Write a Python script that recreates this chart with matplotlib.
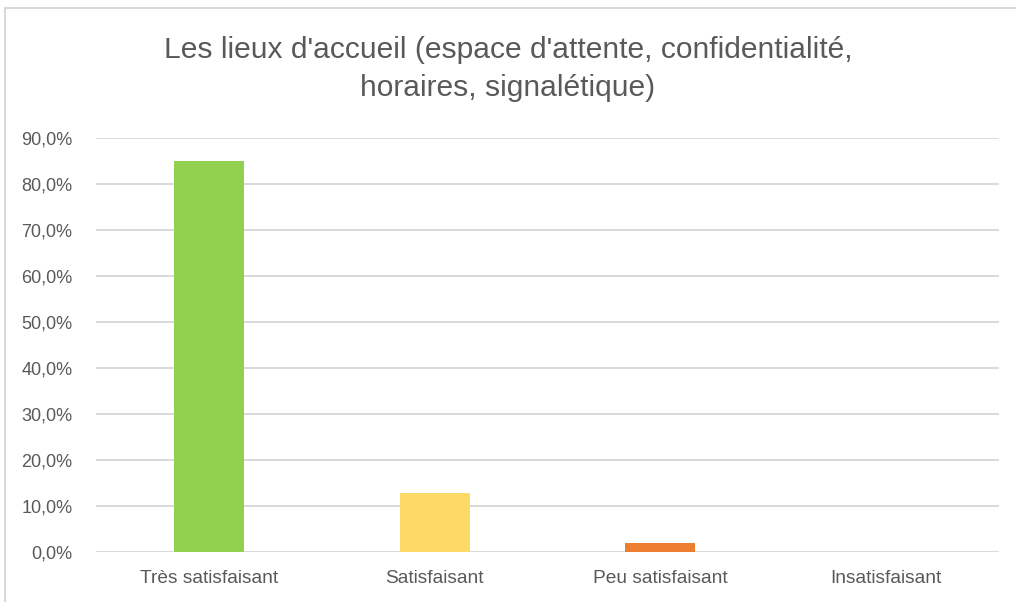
import matplotlib
matplotlib.use('Agg')
from matplotlib import pyplot as plt
from matplotlib.lines import Line2D

plt.rcParams['font.family'] = ['Liberation Sans', 'DejaVu Sans']

# data
categories = ['Très satisfaisant', 'Satisfaisant', 'Peu satisfaisant', 'Insatisfaisant']
values = [85.1, 12.9, 2.0, 0.0]
colors = ['#92d050', '#ffd966', '#ed7d31', '#c00000']
yticks = [0, 10, 20, 30, 40, 50, 60, 70, 80, 90]
title = "Les lieux d'accueil (espace d'attente, confidentialité,\nhoraires, signalétique)"

text_color = '#595959'
grid_color = '#d9d9d9'

fig = plt.figure(figsize=(10.16, 6.02), dpi=100)
ax = fig.add_axes([96 / 1016, 50 / 602, 903 / 1016, 414 / 602])

x = range(len(categories))
ax.bar(x, values, width=0.31, color=colors, zorder=3)

ax.set_xlim(-0.5, len(categories) - 0.5)
ax.set_ylim(0, 90)
ax.set_yticks(yticks)
# french decimal comma
ax.set_yticklabels([('%.1f%%' % v).replace('.', ',') for v in yticks],
                   fontsize=13, color=text_color)
ax.yaxis.set_tick_params(length=0, pad=17)
ax.set_xticks(list(x))
ax.set_xticklabels(categories, fontsize=13.8, color=text_color)
ax.xaxis.set_tick_params(length=0, pad=13)

ax.grid(axis='y', color=grid_color, linewidth=1.4, zorder=0)
for s in ax.spines.values():
    s.set_visible(False)

fig.text(0.5, 1 - 69 / 602, title, ha='center', va='center', fontsize=21.6,
         color=text_color, linespacing=1.45)

# chart frame (only top and left visible in the crop)
fig.add_artist(Line2D([5 / 1016, 1.0], [1 - 8 / 602, 1 - 8 / 602],
                      transform=fig.transFigure, color=grid_color, linewidth=1.5))
fig.add_artist(Line2D([5 / 1016, 5 / 1016], [0, 1 - 8 / 602],
                      transform=fig.transFigure, color=grid_color, linewidth=1.5))

fig.savefig('out.png', dpi=100)
